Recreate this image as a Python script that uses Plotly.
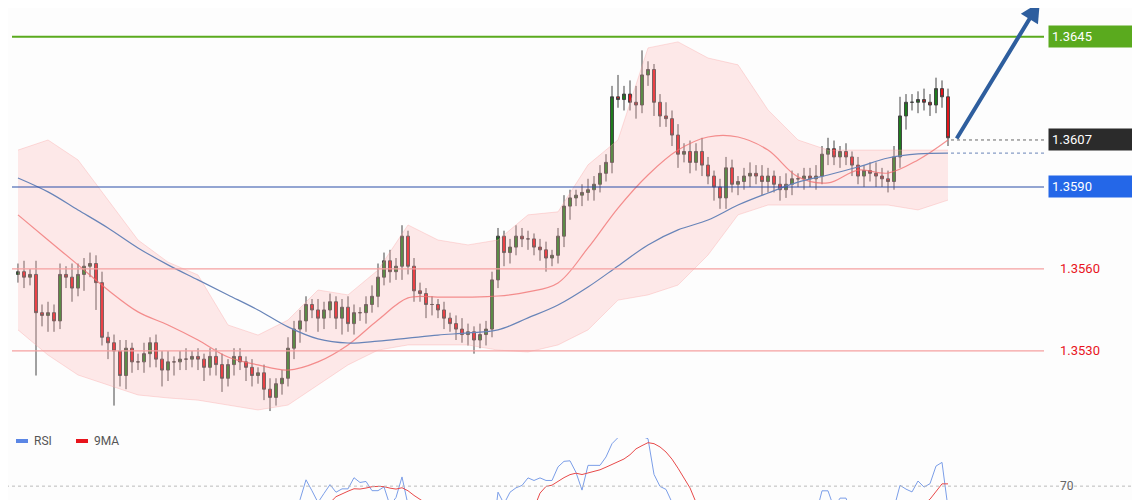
import plotly.graph_objects as go
import pandas as pd
import numpy as np

# closes in pips above 1.3500
close_pips = [59,57,58,44,43,44,41,58,57,53,58,61,62,55,35,33,30,21,31,26,
              26,29,33,27,23,26,26,27,27,28,27,24,28,25,20,25,28,26,24,21,
              22,16,13,18,20,31,38,41,47,45,42,45,48,42,46,40,44,44,47,50,
              57,63,59,61,72,61,52,51,47,47,45,42,40,38,36,37,34,36,38,56,
              72,66,68,72,71,71,68,67,64,65,72,83,86,87,88,89,91,95,99,123,
              122,124,121,120,131,133,121,116,115,109,102,103,99,103,98,94,90,86,97,91,
              92,94,95,94,92,94,91,89,91,93,93,94,93,94,102,104,101,103,101,98,
              94,96,95,94,93,92,101,116,121,121,122,121,120,126,123,108]
wick_up = [3,4,2,5,3,4,3,4,3,5,4,3,4,3,4,2,3,4,3,2,
           3,4,2,3,3,4,2,3,4,2,3,2,3,3,4,2,3,3,2,3,
           2,3,4,2,3,4,3,4,3,2,4,3,3,2,3,4,3,2,3,4,
           5,3,4,3,4,2,3,3,2,3,2,3,2,3,4,3,2,4,3,3,
           3,2,3,4,3,3,2,3,3,2,3,4,3,2,3,4,3,3,3,4,
           8,3,5,6,9,3,2,3,5,3,4,3,4,3,5,3,2,3,4,3,
           2,3,4,3,4,3,2,3,4,3,2,3,3,4,3,4,3,2,3,2,
           3,2,3,4,3,3,4,7,3,3,3,4,3,4,3,3]
wick_dn = [3,4,3,23,4,6,4,3,4,5,3,6,4,10,3,6,20,4,5,4,
           3,4,5,3,6,4,5,3,4,3,4,5,3,4,5,3,4,3,5,4,
           3,4,5,3,4,3,4,5,4,3,5,4,3,4,6,3,4,3,4,3,
           4,3,4,3,5,3,4,3,5,4,3,4,3,4,3,4,5,3,4,3,
           3,5,4,3,3,4,3,4,5,3,3,4,5,3,4,3,4,3,3,4,
           3,4,3,5,3,4,5,4,3,4,5,3,4,3,4,3,5,4,4,3,
           4,3,4,3,5,4,3,4,3,4,3,4,3,4,3,4,3,4,3,4,
           3,4,3,4,3,4,3,4,5,3,4,3,4,3,4,3]

band_idx = list(range(0, 156, 5))
upper_pips = [103.5,107.2,99.9,85.2,70.6,62.5,57.8,39.5,35.8,41.3,52.3,50.5,59.6,76.1,70.6,68.8,
              70.6,79.8,80.9,98.1,107.2,140.9,143.1,137.2,134.7,118.2,107.2,103.5,103.5,103.5,103.5,103.5]
mid_pips = [79.8,70.6,61.5,52.3,44.3,39.5,34.0,27.8,24.9,23.0,26.0,32.2,41.3,49.4,49.7,49.7,
            50.1,51.6,54.9,67.7,82.3,94.4,103.5,108.3,108.3,103.5,93.7,91.5,96.2,95.1,99.9,107.2]
lower_pips = [37.7,28.5,21.2,17.5,13.9,12.8,12.0,10.2,8.4,10.2,17.5,24.9,30.3,32.2,32.2,32.2,
              30.3,29.6,32.2,37.7,48.6,50.5,54.1,65.1,79.8,83.4,83.4,83.4,83.4,83.4,81.6,85.2]
blue_pips = [93.3,88.2,81.6,75.0,67.7,61.5,56.0,50.5,45.0,38.8,34.4,32.9,33.6,34.7,35.8,36.6,
             37.7,42.1,46.8,53.4,61.1,68.8,74.3,77.9,83.4,87.8,91.8,94.4,97.3,100.6,102.1,102.4]

BASE = 1.35
P = lambda a: [BASE + v / 10000 for v in a]
closes = P(close_pips)
opens = [closes[0] - 0.0001] + closes[:-1]
highs = [max(o, c) + w / 10000 for o, c, w in zip(opens, closes, wick_up)]
lows = [min(o, c) - w / 10000 for o, c, w in zip(opens, closes, wick_dn)]
idx = list(range(len(closes)))

s = pd.Series(closes)
d = s.diff()
up = d.clip(lower=0).rolling(14).mean()
dn = (-d.clip(upper=0)).rolling(14).mean()
rsi = 100 - 100 / (1 + up / dn)
rsi_ma = rsi.rolling(9).mean()

OFF = 8  # page body offset in px
W, H = 1140, 500
px = lambda X: (X - OFF) / W
py = lambda Y: (H - (Y - OFF)) / H

fig = go.Figure()
fig.add_trace(go.Scatter(x=band_idx, y=P(upper_pips), mode="lines", line=dict(color="rgba(250,160,160,0.35)", width=1), hoverinfo="skip"))
fig.add_trace(go.Scatter(x=band_idx, y=P(lower_pips), mode="lines", line=dict(color="rgba(250,160,160,0.35)", width=1),
                         fill="tonexty", fillcolor="rgba(255,180,180,0.28)", hoverinfo="skip"))
fig.add_trace(go.Scatter(x=band_idx, y=P(mid_pips), mode="lines", line=dict(color="rgba(240,110,110,0.75)", width=1.2, shape="spline")))
fig.add_trace(go.Scatter(x=band_idx, y=P(blue_pips), mode="lines", line=dict(color="#6884b8", width=1.2, shape="spline")))
fig.add_trace(go.Candlestick(x=idx, open=opens, high=highs, low=lows, close=closes,
                             increasing=dict(line=dict(color="#444", width=1), fillcolor="#1d7d1d"),
                             decreasing=dict(line=dict(color="#444", width=1), fillcolor="#e6141b"),
                             whiskerwidth=0))
fig.add_trace(go.Scatter(x=idx, y=rsi, yaxis="y2", mode="lines", line=dict(color="#7b9ee8", width=1)))
fig.add_trace(go.Scatter(x=idx, y=rsi_ma, yaxis="y2", mode="lines", line=dict(color="#e84a4a", width=1)))

levels = [(1.3645, "#5aaa1e", 2), (1.3590, "#2a4fa8", 1.2), (1.3560, "#f5a0a0", 1.2), (1.3530, "#f5a0a0", 1.2)]
for lv, col, w in levels:
    fig.add_shape(type="line", xref="x", yref="y", x0=-1, x1=171, y0=lv, y1=lv, line=dict(color=col, width=w))
fig.add_shape(type="line", x0=155.5, x1=171, y0=1.36072, y1=1.36072, line=dict(color="#666", width=1, dash="dot"))
fig.add_shape(type="line", x0=155.5, x1=171, y0=BASE + blue_pips[-1] / 10000, y1=BASE + blue_pips[-1] / 10000,
              line=dict(color="#6884b8", width=1, dash="dot"))
fig.add_shape(type="line", x0=-3, x1=187, y0=70, y1=70, yref="y2", line=dict(color="#bbb", width=1, dash="dot"))

def box(price, text, bg, fg="white"):
    fig.add_annotation(x=px(1136), xref="paper", y=price, yref="y", xanchor="right", text=text, showarrow=False,
                       bgcolor=bg, font=dict(color=fg, size=13, family="Roboto"), width=80, align="left",
                       borderpad=3)
box(1.3645, "1.3645", "#5aaa1e")
box(1.36072, "1.3607", "#2b2b2b")
box(1.3590, "1.3590", "#2467e8")
for lv, t in [(1.3560, "1.3560"), (1.3530, "1.3530")]:
    fig.add_annotation(x=px(1058), xref="paper", y=lv, yref="y", xanchor="left", text=t, showarrow=False,
                       font=dict(color="#e8141c", size=13, family="Roboto"))
fig.add_annotation(x=px(1058), xref="paper", y=70, yref="y2", xanchor="left", text="70", showarrow=False,
                   font=dict(color="#666", size=12, family="Roboto"))
fig.add_annotation(x=170.3, y=1.36577, ax=156.3, ay=1.36072, xref="x", yref="y", axref="x", ayref="y",
                   showarrow=True, arrowhead=2, arrowsize=1, arrowwidth=4, arrowcolor="#2e5e9e", text="")
for xp, col, t in [(16, "#5b86e5", "RSI"), (76, "#e8141c", "9MA")]:
    fig.add_shape(type="rect", xref="paper", yref="paper", x0=px(xp), x1=px(xp + 12), y0=py(443), y1=py(439),
                  fillcolor=col, line_width=0)
    fig.add_annotation(x=px(xp + 16), xref="paper", y=py(450), yref="paper", xanchor="left", text=t,
                       showarrow=False, font=dict(color="#555", size=12, family="Roboto"))

fig.update_layout(width=W, height=H, margin=dict(l=0, r=0, t=0, b=0), showlegend=False,
                  paper_bgcolor="#fdfdfd", plot_bgcolor="#fdfdfd",
                  xaxis=dict(range=[-1.667, 188.333], visible=False, rangeslider=dict(visible=False)),
                  yaxis=dict(range=[1.35018, 1.36555], domain=[0.16, 1], visible=False),
                  yaxis2=dict(range=[60, 92], domain=[0, 0.14], visible=False))
fig.write_html("out.html")
